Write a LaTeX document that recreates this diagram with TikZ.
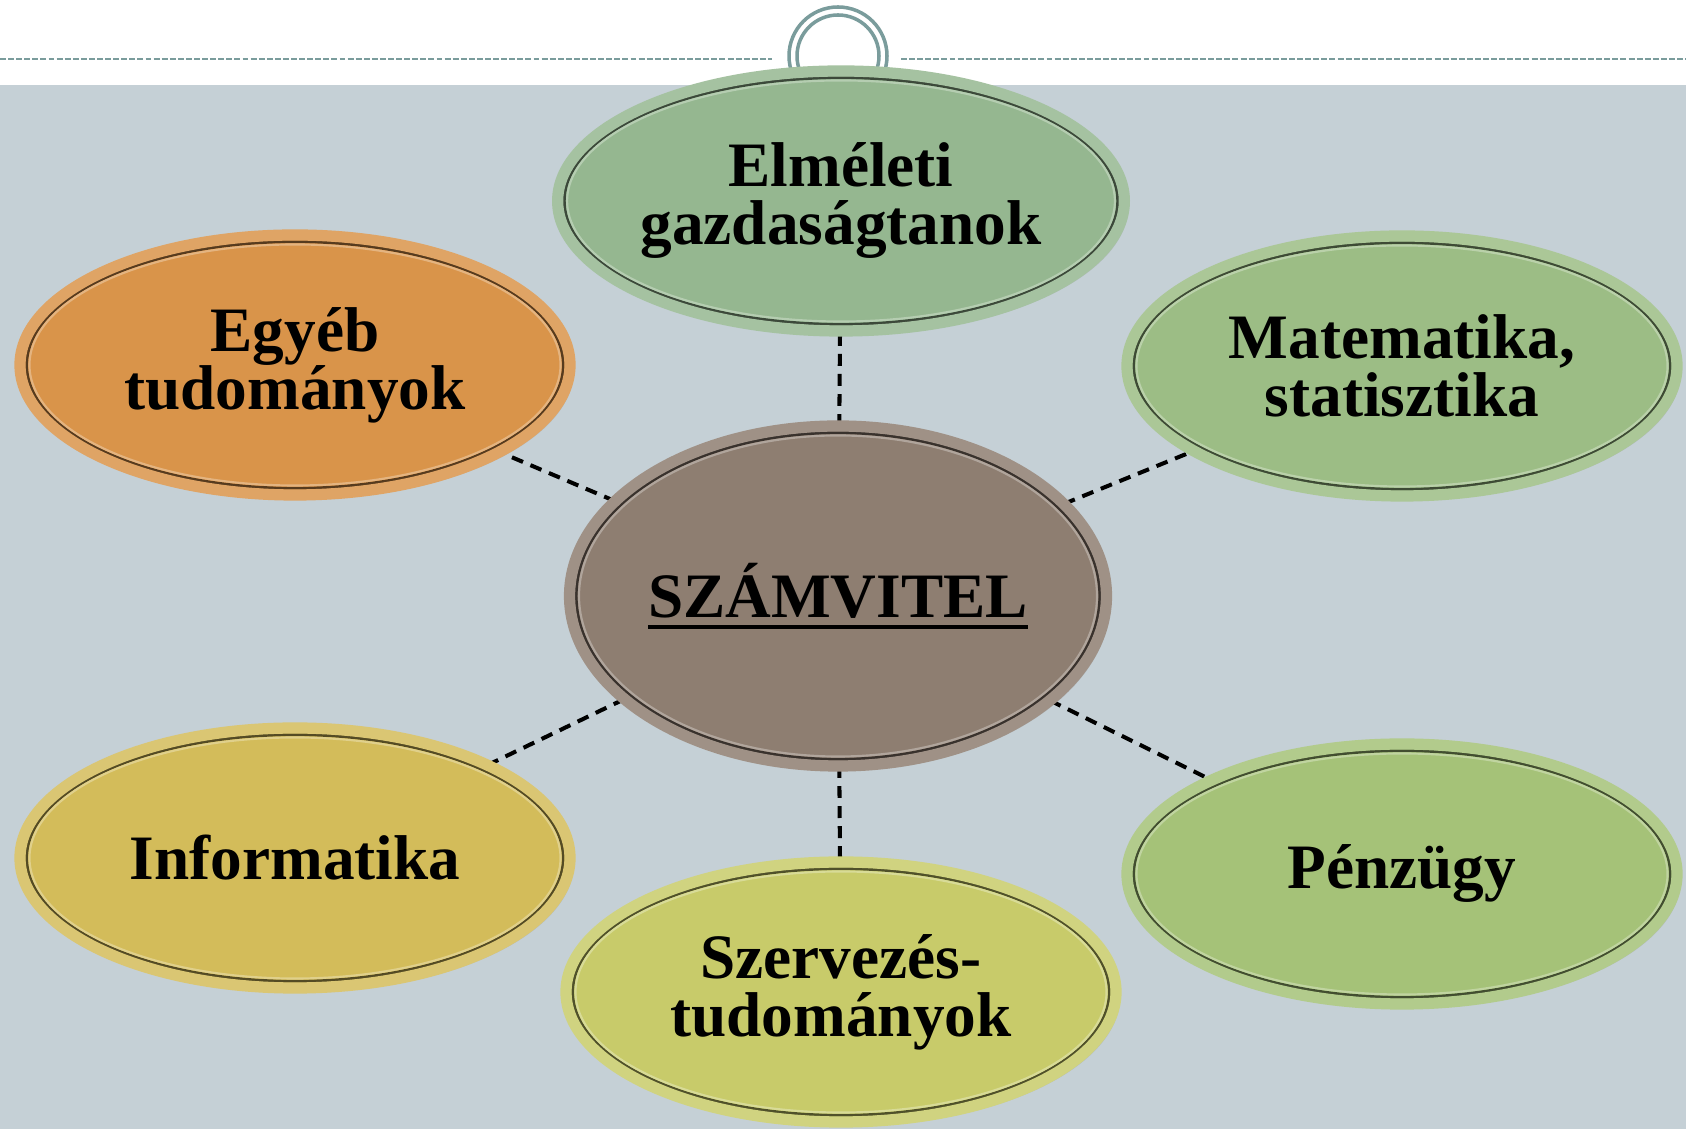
\documentclass[tikz,border=0pt]{standalone}
\usepackage{fontspec}
\setmainfont{Liberation Serif}
\usetikzlibrary{shapes.geometric,calc,shadows}

\definecolor{bgGrey}{RGB}{197,208,214}
\definecolor{ringTeal}{RGB}{122,156,156}
\definecolor{elmColor}{RGB}{149,183,144}
\definecolor{egyColor}{RGB}{217,148,74}
\definecolor{matColor}{RGB}{156,189,133}
\definecolor{szvColor}{RGB}{142,126,113}
\definecolor{infColor}{RGB}{211,188,90}
\definecolor{penColor}{RGB}{165,194,120}
\definecolor{szoColor}{RGB}{200,203,106}

\pgfdeclarelayer{bg}
\pgfsetlayers{bg,main}

\newcommand{\ulthick}[1]{\leavevmode\vtop{\hbox{#1}\kern1.8pt\hrule height 1.1pt}}

\tikzset{
  bubble/.style={ellipse, fill=#1, draw=#1!85!white, line width=3.2pt,
    inner sep=0pt, outer sep=0pt, align=center,
    minimum width=5.5cm, minimum height=2.6cm,
    font=\fontsize{18}{16.5}\selectfont\bfseries,
    drop shadow={opacity=0.25, shadow xshift=1.2pt, shadow yshift=-1.2pt},
    path picture={
      \draw[#1!40!black, line width=0.8pt]
        let \p1=($(path picture bounding box.north east)-(path picture bounding box.center)$) in
        (path picture bounding box.center) ellipse [x radius=\x1-1.9pt, y radius=\y1-1.9pt];
      \draw[#1!70!white, line width=0.6pt]
        let \p1=($(path picture bounding box.north east)-(path picture bounding box.center)$) in
        (path picture bounding box.center) ellipse [x radius=\x1-2.7pt, y radius=\y1-2.7pt];
    }},
  link/.style={draw=black, line width=1.15pt, dash pattern=on 3.4pt off 2.3pt},
  rule/.style={ringTeal, line width=0.6pt, dash pattern=on 1.7pt off 0.6pt},
}

\begin{document}
\begin{tikzpicture}
  \useasboundingbox (0,0) rectangle (16.86,11.29);

  % nodes
  \node[bubble=elmColor] (elmelet) at (8.41,9.28) {Elméleti\\gazdaságtanok};
  \node[bubble=egyColor] (egyeb) at (2.95,7.64) {Egyéb\\tudományok};
  \node[bubble=matColor] (matek) at (14.02,7.63) {Matematika,\\statisztika};
  \node[bubble=szvColor, minimum width=5.36cm, minimum height=3.4cm] (szamvitel) at (8.38,5.33) {\ulthick{SZÁMVITEL}};
  \node[bubble=infColor] (info) at (2.95,2.71) {Informatika};
  \node[bubble=penColor] (penzugy) at (14.02,2.55) {Pénzügy};
  \node[bubble=szoColor] (szervezes) at (8.41,1.37) {Szervezés-\\tudományok};

  \begin{pgfonlayer}{bg}
    \fill[white] (0,0) rectangle (16.86,11.29);
    \fill[bgGrey] (0,0) rectangle (16.86,10.44);
    % header line and ring
    \draw[rule] (0,10.70) -- (7.72,10.70);
    \draw[rule] (9.01,10.70) -- (16.86,10.70);
    \coordinate (ring) at (8.38,10.73);
    \foreach \r in {0.49,0.41}
      \draw[ringTeal, line width=1pt] (ring) circle (\r);
    % connectors
    \foreach \n in {elmelet,egyeb,matek,info,penzugy,szervezes}
      \draw[link] (szamvitel) -- (\n);
  \end{pgfonlayer}
\end{tikzpicture}
\end{document}
